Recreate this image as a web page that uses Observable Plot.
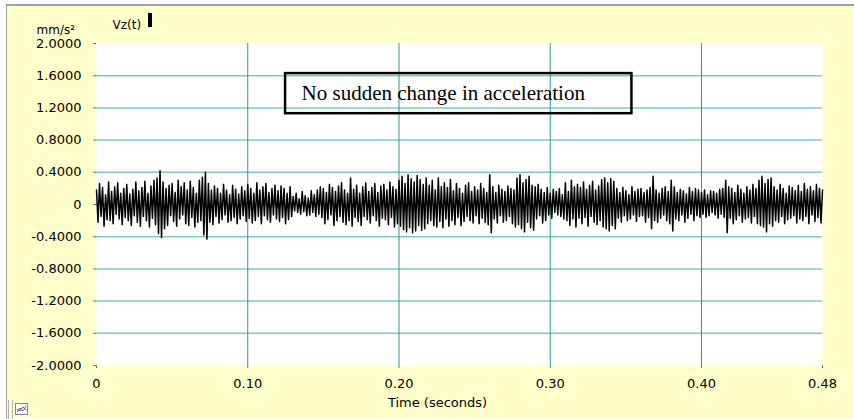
<!DOCTYPE html>
<html>
<head>
<meta charset="utf-8">
<script src="https://cdn.jsdelivr.net/npm/d3@7"></script>
<script src="https://cdn.jsdelivr.net/npm/@observablehq/plot@0.6"></script>
<style>
  html, body { margin: 0; padding: 0; background: #ffffff; }
  #wrap { position: relative; width: 854px; height: 419px; overflow: hidden; background: #ffffff; }
  #panel { position: absolute; left: 6px; top: 4px; width: 848px; height: 413px; background: #ffffcc;
           border-top: 2px solid #a0a0a0; border-left: 1px solid #a0a0a0; border-bottom: 1px solid #e0e0e0; }
  #chart { position: absolute; left: 0; top: 0; }
  #cursor { position: absolute; left: 148px; top: 13px; width: 4px; height: 14px; background: #000; }
  #grip { position: absolute; left: 8px; top: 400px; width: 3px; height: 19px; border-left: 1px solid #b0b0b0; border-right: 1px solid #b0b0b0; }
  #icon { position: absolute; left: 15px; top: 403px; }
</style>
</head>
<body>
<div id="wrap">
  <div id="panel"></div>
  <div id="chart"></div>
  <div id="cursor"></div>
  <div id="grip"></div>
  <svg id="icon" width="14" height="13" viewBox="0 0 14 13">
    <rect x="0.5" y="0.5" width="12" height="11" fill="#ffffff" stroke="#8080a0"/>
    <polyline points="2,9 5,5 8,8 11,3" fill="none" stroke="#c04040" stroke-width="1"/>
    <polyline points="2,6 5,8 8,4 11,7" fill="none" stroke="#4060c0" stroke-width="1"/>
  </svg>
</div>
<script>
// ---- data ----
const sampleInterval = 0.001; // seconds between samples
const vz = [
  0.18,-0.22,0.26,-0.15,0.21,-0.27,0.12,-0.19,0.28,-0.2,
  0.16,-0.24,0.22,-0.12,0.27,-0.18,0.14,-0.25,0.2,-0.16,
  0.25,-0.2,0.13,-0.26,0.19,-0.14,0.28,-0.22,0.17,-0.27,
  0.21,-0.15,0.29,-0.2,0.14,-0.28,0.23,-0.17,0.3,-0.25,
  0.33,-0.36,0.42,-0.41,0.28,-0.3,0.2,-0.26,0.24,-0.14,
  0.26,-0.21,0.15,-0.27,0.3,-0.18,0.22,-0.13,0.27,-0.24,
  0.18,-0.26,0.29,-0.16,0.21,-0.28,0.14,-0.22,0.3,-0.2,
  0.34,-0.38,0.4,-0.43,0.26,-0.22,0.18,-0.25,0.23,-0.15,
  0.2,-0.23,0.14,-0.19,0.25,-0.13,0.18,-0.22,0.12,-0.2,
  0.24,-0.16,0.19,-0.24,0.13,-0.18,0.22,-0.14,0.17,-0.21,
  0.25,-0.17,0.2,-0.23,0.14,-0.2,0.27,-0.15,0.18,-0.24,
  0.22,-0.14,0.26,-0.19,0.15,-0.22,0.2,-0.13,0.24,-0.18,
  0.17,-0.21,0.23,-0.16,0.2,-0.24,0.14,-0.19,0.22,-0.15,
  0.1,-0.08,0.14,-0.1,0.07,-0.12,0.16,-0.09,0.11,-0.14,
  0.08,-0.13,0.17,-0.1,0.12,-0.15,0.18,-0.12,0.22,-0.16,
  0.2,-0.24,0.15,-0.19,0.25,-0.13,0.21,-0.26,0.16,-0.2,
  0.23,-0.15,0.27,-0.22,0.18,-0.25,0.14,-0.2,0.33,-0.27,
  0.19,-0.16,0.24,-0.21,0.14,-0.26,0.22,-0.15,0.27,-0.19,
  0.16,-0.23,0.21,-0.14,0.26,-0.2,0.15,-0.27,0.23,-0.17,
  0.25,-0.19,0.18,-0.25,0.28,-0.16,0.22,-0.28,0.19,-0.24,
  0.3,-0.27,0.35,-0.31,0.26,-0.34,0.37,-0.29,0.32,-0.35,
  0.28,-0.33,0.36,-0.26,0.31,-0.32,0.25,-0.3,0.33,-0.24,
  0.24,-0.2,0.3,-0.26,0.18,-0.28,0.33,-0.21,0.22,-0.29,
  0.27,-0.18,0.21,-0.27,0.31,-0.2,0.17,-0.25,0.26,-0.16,
  0.2,-0.26,0.14,-0.21,0.24,-0.15,0.27,-0.2,0.16,-0.23,
  0.22,-0.14,0.18,-0.24,0.26,-0.17,0.2,-0.22,0.15,-0.25,
  0.37,-0.35,0.22,-0.18,0.15,-0.23,0.24,-0.14,0.19,-0.22,
  0.16,-0.2,0.23,-0.15,0.2,-0.24,0.18,-0.28,0.33,-0.25,
  0.37,-0.3,0.27,-0.34,0.31,-0.22,0.35,-0.29,0.24,-0.32,
  0.22,-0.18,0.25,-0.14,0.19,-0.23,0.15,-0.2,0.21,-0.13,
  0.14,-0.17,0.19,-0.1,0.16,-0.13,0.2,-0.15,0.12,-0.18,
  0.27,-0.2,0.16,-0.26,0.3,-0.18,0.22,-0.28,0.25,-0.17,
  0.21,-0.24,0.28,-0.16,0.19,-0.27,0.24,-0.15,0.29,-0.22,
  0.18,-0.25,0.23,-0.2,0.31,-0.28,0.33,-0.3,0.27,-0.33,
  0.32,-0.26,0.29,-0.3,0.2,-0.17,0.15,-0.22,0.21,-0.14,
  0.17,-0.2,0.12,-0.18,0.22,-0.13,0.16,-0.21,0.19,-0.15,
  0.2,-0.14,0.15,-0.22,0.18,-0.16,0.21,-0.3,0.35,-0.2,
  0.18,-0.22,0.14,-0.17,0.2,-0.13,0.22,-0.2,0.16,-0.24,
  0.3,-0.33,0.22,-0.18,0.15,-0.2,0.19,-0.13,0.17,-0.22,
  0.13,-0.17,0.21,-0.12,0.16,-0.2,0.2,-0.14,0.18,-0.16,
  0.15,-0.12,0.18,-0.16,0.12,-0.14,0.17,-0.1,0.16,-0.13,
  0.14,-0.17,0.19,-0.12,0.2,-0.16,0.3,-0.35,0.22,-0.17,
  0.2,-0.24,0.15,-0.19,0.24,-0.14,0.19,-0.22,0.14,-0.18,
  0.22,-0.16,0.18,-0.23,0.25,-0.15,0.2,-0.24,0.3,-0.26,
  0.35,-0.28,0.26,-0.34,0.31,-0.24,0.33,-0.27,0.22,-0.2,
  0.18,-0.22,0.25,-0.15,0.2,-0.24,0.14,-0.19,0.23,-0.17,
  0.21,-0.14,0.17,-0.23,0.24,-0.18,0.16,-0.2,0.26,-0.15,
  0.19,-0.24,0.22,-0.13,0.17,-0.21,0.25,-0.16,0.2,-0.23,
  0.18
];
const yTicks = [2, 1.6, 1.2, 0.8, 0.4, 0, -0.4, -0.8, -1.2, -1.6, -2];
const yTickLabels = ["2.0000","1.6000","1.2000","0.8000","0.4000","0","-0.4000","-0.8000","-1.2000","-1.6000","-2.0000"];
const yGrid = [1.6, 1.2, 0.8, 0.4, 0, -0.4, -0.8, -1.2, -1.6];
const xTicks = [0, 0.1, 0.2, 0.3, 0.4, 0.48];
const xTickLabels = ["0", "0.10", "0.20", "0.30", "0.40", "0.48"];
const xGrid = [0.1, 0.2, 0.3, 0.4];
const xLabel = "Time (seconds)";
const yUnit = "mm/s²";
const seriesName = "Vz(t)";
const noteText = "No sudden change in acceleration";
const noteBox = [{x1: 0.125, x2: 0.354, y1: 1.128, y2: 1.626}];

// ---- build ----
const signal = vz.map((v, i) => ({t: i * sampleInterval, v}));
const yLab = new Map(yTicks.map((d, i) => [d, yTickLabels[i]]));
const xLab = new Map(xTicks.map((d, i) => [d, xTickLabels[i]]));

const chart = Plot.plot({
  width: 854,
  height: 419,
  marginLeft: 96,
  marginRight: 32,
  marginTop: 43,
  marginBottom: 54,
  style: {background: "transparent", fontFamily: "'DejaVu Sans', sans-serif", fontSize: "13px", color: "#000", overflow: "visible"},
  x: {domain: [0, 0.48]},
  y: {domain: [-2, 2]},
  marks: [
    Plot.frame({fill: "#ffffff", stroke: null}),
    Plot.ruleY(yGrid, {stroke: "#80c8c8", strokeWidth: 1.5}),
    Plot.ruleX(xGrid, {stroke: "#2e9898", strokeWidth: 1}),
    Plot.line(signal, {x: "t", y: "v", stroke: "#000", strokeWidth: 1.5}),
    Plot.rect(noteBox, {x1: "x1", x2: "x2", y1: "y1", y2: "y2", fill: "none", stroke: "#000", strokeWidth: 2.5}),
    Plot.text([noteText], {x: noteBox[0].x1, y: (noteBox[0].y1 + noteBox[0].y2) / 2, dx: 16, dy: 0, textAnchor: "start",
      fontFamily: "'Liberation Serif', 'Times New Roman', serif", fontSize: 21, fill: "#000"}),
    Plot.axisY(yTicks, {tickSize: 3, stroke: "#707070", tickFormat: () => "", label: null}),
    Plot.axisX(xTicks, {tickSize: 3, stroke: "#707070", tickFormat: () => "", label: null}),
    Plot.text(yTicks, {y: d => d, text: d => yLab.get(d), frameAnchor: "left", textAnchor: "end", dx: -15,
      fill: "#000", fontSize: 13, letterSpacing: "1.3px"}),
    Plot.text(xTicks, {x: d => d, text: d => xLab.get(d), frameAnchor: "bottom", lineAnchor: "middle", dy: 18,
      fill: "#000", fontSize: 13, letterSpacing: "1.3px"}),
    Plot.text([xLabel], {frameAnchor: "bottom", dx: -22, dy: 41, fill: "#000", fontSize: 13, letterSpacing: "0.5px"}),
    Plot.text([yUnit], {frameAnchor: "top-left", textAnchor: "start", dx: -60, dy: -18, fill: "#000", fontSize: 12}),
    Plot.text([seriesName], {frameAnchor: "top-left", dx: 16, dy: -23, textAnchor: "start", fill: "#000", fontSize: 12})
  ]
});
document.getElementById("chart").appendChild(chart);
</script>
</body>
</html>
